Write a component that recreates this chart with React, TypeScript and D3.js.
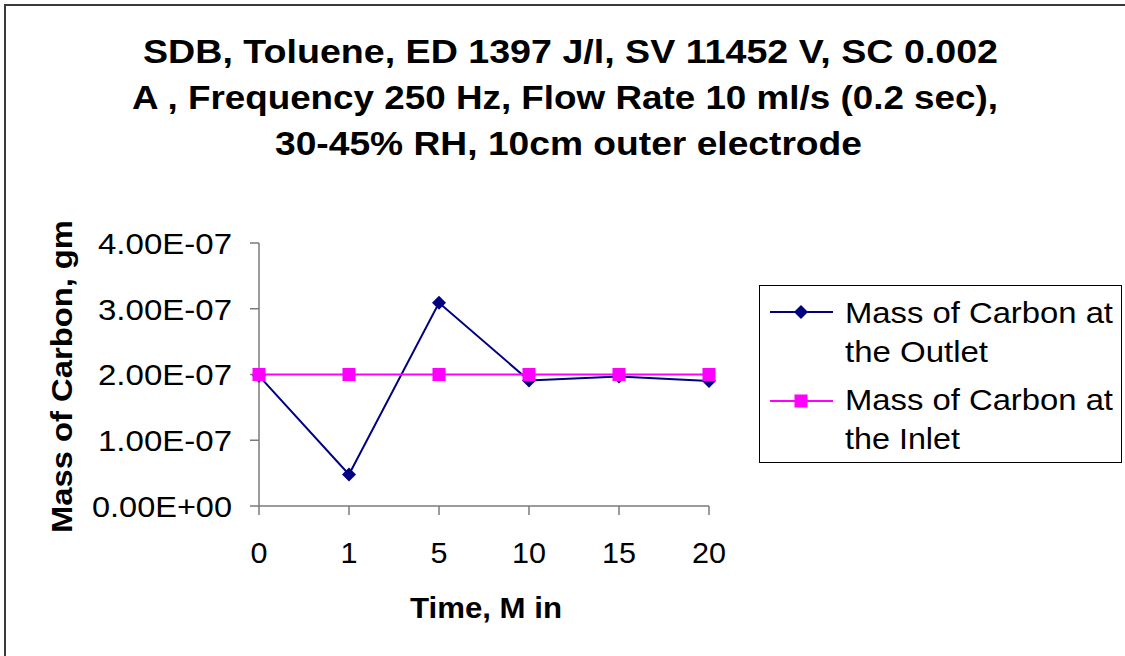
import React from "react";
import * as d3 from "d3";

// Sampling times (minutes) shown as evenly spaced categories
const times = ["0", "1", "5", "10", "15", "20"];
// Mass of carbon (g) measured at the outlet
const outletMass = [1.98e-7, 0.48e-7, 3.09e-7, 1.91e-7, 1.97e-7, 1.9e-7];
// Mass of carbon (g) at the inlet
const inletMass = [2.0e-7, 2.0e-7, 2.0e-7, 2.0e-7, 2.0e-7, 2.0e-7];
const yTicks = [0, 1e-7, 2e-7, 3e-7, 4e-7];
const titleLines = [
  "SDB, Toluene, ED 1397 J/l, SV 11452 V, SC 0.002",
  "A , Frequency 250 Hz, Flow Rate 10 ml/s (0.2 sec),",
  "30-45% RH, 10cm outer electrode",
];
const seriesNames = [
  ["Mass of Carbon at", "the Outlet"],
  ["Mass of Carbon at", "the Inlet"],
];

const W = 1125;
const H = 656;
const FONT = "'Liberation Sans', Arial, Helvetica, sans-serif";
const NAVY = "#000080";
const MAGENTA = "#FF00FF";
const AXIS = "#7a7a7a";

function fmtSci(v: number): string {
  if (v === 0) return "0.00E+00";
  const exp = Math.floor(Math.log10(v) + 1e-9);
  const mant = v / Math.pow(10, exp);
  const sign = exp < 0 ? "-" : "+";
  const e = String(Math.abs(exp)).padStart(2, "0");
  return `${mant.toFixed(2)}E${sign}${e}`;
}

function Diamond({ x, y, r = 7 }: { x: number; y: number; r?: number }) {
  return (
    <path
      d={`M${x},${y - r}L${x + r},${y}L${x},${y + r}L${x - r},${y}Z`}
      fill={NAVY}
    />
  );
}

function Square({ x, y, s = 13 }: { x: number; y: number; s?: number }) {
  return <rect x={x - s / 2} y={y - s / 2} width={s} height={s} fill={MAGENTA} />;
}

export default function App() {
  const x = d3.scalePoint<string>().domain(times).range([259, 709]);
  const y = d3.scaleLinear().domain([0, 4e-7]).range([506, 243]);

  const line = d3
    .line<number>()
    .x((_, i) => x(times[i]) as number)
    .y((d) => y(d));

  const titleLengths = [855, 866, 587];
  const titleBase = [63, 109, 155];
  const titleStart = [143, 132, 275];

  const legendTextLen = [
    [268, 143],
    [268, 115],
  ];

  // Glyph widths of the category labels run a little wide
  const xLabelLen = (t: string) => (t.length === 1 ? 17 : 34);

  return (
    <svg
      width={W}
      height={H}
      style={{ position: "absolute", left: 0, top: 0, background: "#fff" }}
      fontFamily={FONT}
    >
      <rect x={0} y={0} width={W} height={H} fill="#fff" />
      {/* outer chart frame */}
      <rect x={5} y={5} width={W + 20} height={H + 20} fill="none" stroke="#3a3a3a" strokeWidth={2} />

      {/* title */}
      {titleLines.map((t, i) => (
        <text
          key={i}
          x={titleStart[i]}
          y={titleBase[i]}
          fontSize={33}
          fontWeight="bold"
          textLength={titleLengths[i]}
          lengthAdjust="spacingAndGlyphs"
        >
          {t}
        </text>
      ))}

      {/* y axis */}
      <line x1={259} x2={259} y1={y(4e-7)} y2={y(0)} stroke={AXIS} strokeWidth={1.5} />
      {yTicks.map((t) => (
        <g key={t}>
          <line x1={250} x2={259} y1={y(t)} y2={y(t)} stroke={AXIS} strokeWidth={1.5} />
          <text
            x={232}
            y={y(t)}
            dy="0.36em"
            textAnchor="end"
            fontSize={30}
            textLength={t === 0 ? 140 : 134}
            lengthAdjust="spacingAndGlyphs"
          >
            {fmtSci(t)}
          </text>
        </g>
      ))}

      {/* x axis */}
      <line x1={259} x2={709} y1={y(0)} y2={y(0)} stroke={AXIS} strokeWidth={1.5} />
      {times.map((t) => (
        <g key={t}>
          <line x1={x(t)} x2={x(t)} y1={y(0)} y2={y(0) + 9} stroke={AXIS} strokeWidth={1.5} />
          <text
            x={x(t)}
            y={563}
            textAnchor="middle"
            fontSize={30}
            textLength={xLabelLen(t)}
            lengthAdjust="spacingAndGlyphs"
          >
            {t}
          </text>
        </g>
      ))}

      {/* axis titles */}
      <text
        x={486}
        y={618}
        textAnchor="middle"
        fontSize={30}
        fontWeight="bold"
        textLength={152}
        lengthAdjust="spacingAndGlyphs"
      >
        Time, M in
      </text>
      <text
        transform={`translate(72,376.5) rotate(-90)`}
        textAnchor="middle"
        fontSize={30}
        fontWeight="bold"
        textLength={313}
        lengthAdjust="spacingAndGlyphs"
      >
        Mass of Carbon, gm
      </text>

      {/* outlet series */}
      <path d={line(outletMass) ?? ""} fill="none" stroke={NAVY} strokeWidth={2} />
      {outletMass.map((v, i) => (
        <Diamond key={i} x={x(times[i]) as number} y={y(v)} />
      ))}

      {/* inlet series */}
      <path d={line(inletMass) ?? ""} fill="none" stroke={MAGENTA} strokeWidth={2} />
      {inletMass.map((v, i) => (
        <Square key={i} x={x(times[i]) as number} y={y(v)} />
      ))}

      {/* legend */}
      <rect x={759.5} y={285.5} width={362} height={177} fill="#fff" stroke="#000" strokeWidth={1} />
      {[0, 1].map((k) => {
        const sy = k === 0 ? 312 : 401;
        const baseY = k === 0 ? 323 : 410;
        return (
          <g key={k}>
            <line x1={770} x2={833} y1={sy} y2={sy} stroke={k === 0 ? NAVY : MAGENTA} strokeWidth={2} />
            {k === 0 ? <Diamond x={801} y={sy} /> : <Square x={801} y={sy} />}
            {seriesNames[k].map((s, j) => (
              <text
                key={j}
                x={845}
                y={baseY + j * 39}
                fontSize={30}
                textLength={legendTextLen[k][j]}
                lengthAdjust="spacingAndGlyphs"
              >
                {s}
              </text>
            ))}
          </g>
        );
      })}
    </svg>
  );
}
